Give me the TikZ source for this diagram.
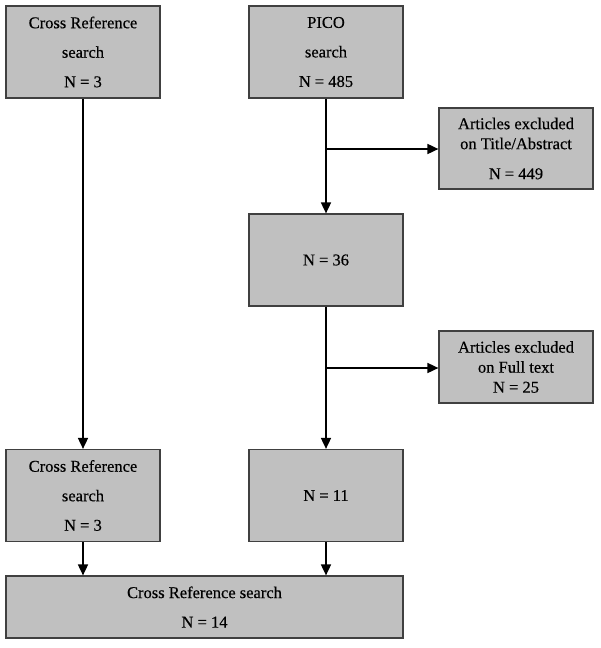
\documentclass[tikz,border=0pt]{standalone}
\usepackage{fontspec}
\setmainfont{Liberation Serif}
\newfontfamily\boxfont{Liberation Serif}[FakeBold=0.4]
\usetikzlibrary{arrows.meta}
\definecolor{boxgray}{HTML}{C0C0C0}
\definecolor{edgegray}{HTML}{404040}
\begin{document}
\begin{tikzpicture}[x=1pt,y=-1pt,
  box/.style={draw=edgegray,line width=1.2pt,fill=boxgray,inner sep=0pt,align=center,
    text=black},
  wide/.style={font=\boxfont\fontsize{16.5}{29.5}\selectfont},
  narrow/.style={font=\boxfont\fontsize{16.5}{20}\selectfont},
  flow/.style={line width=1.7pt,-{Triangle[length=11pt,width=10pt]}}]
\useasboundingbox (0,0) rectangle (600,648);
\node[box,wide,minimum width=154pt,minimum height=92pt] (A) at (83,52) {Cross Reference\\search\\N = 3};
\node[box,wide,minimum width=154pt,minimum height=92pt] (B) at (326,52) {PICO\\search\\N = 485};
\node[box,narrow,minimum width=154pt,minimum height=81pt] (C) at (516,148.5) {Articles excluded\\on Title/Abstract\\[10pt]N = 449};
\node[box,wide,minimum width=154pt,minimum height=92pt] (D) at (326,260) {N = 36};
\node[box,narrow,minimum width=154pt,minimum height=72pt] (E) at (516,367) {Articles excluded\\on Full text\\N = 25};
\node[box,wide,minimum width=154pt,minimum height=92pt] (F) at (83,495.5) {Cross Reference\\search\\N = 3};
\node[box,wide,minimum width=154pt,minimum height=92pt] (G) at (326,495.5) {N = 11};
\node[box,wide,minimum width=397pt,minimum height=62pt] (H) at (204.5,607) {Cross Reference search\\N = 14};
\coordinate (b1) at (326,149);
\coordinate (b2) at (326,368);
\draw[flow] (A) -- (F);
\draw[flow] (B) -- (D);
\draw[flow] (D) -- (G);
\draw[flow] (b1) -- (C.west |- b1);
\draw[flow] (b2) -- (E.west |- b2);
\draw[flow] (F.south) -- (F.south |- H.north);
\draw[flow] (G.south) -- (G.south |- H.north);
\end{tikzpicture}
\end{document}
